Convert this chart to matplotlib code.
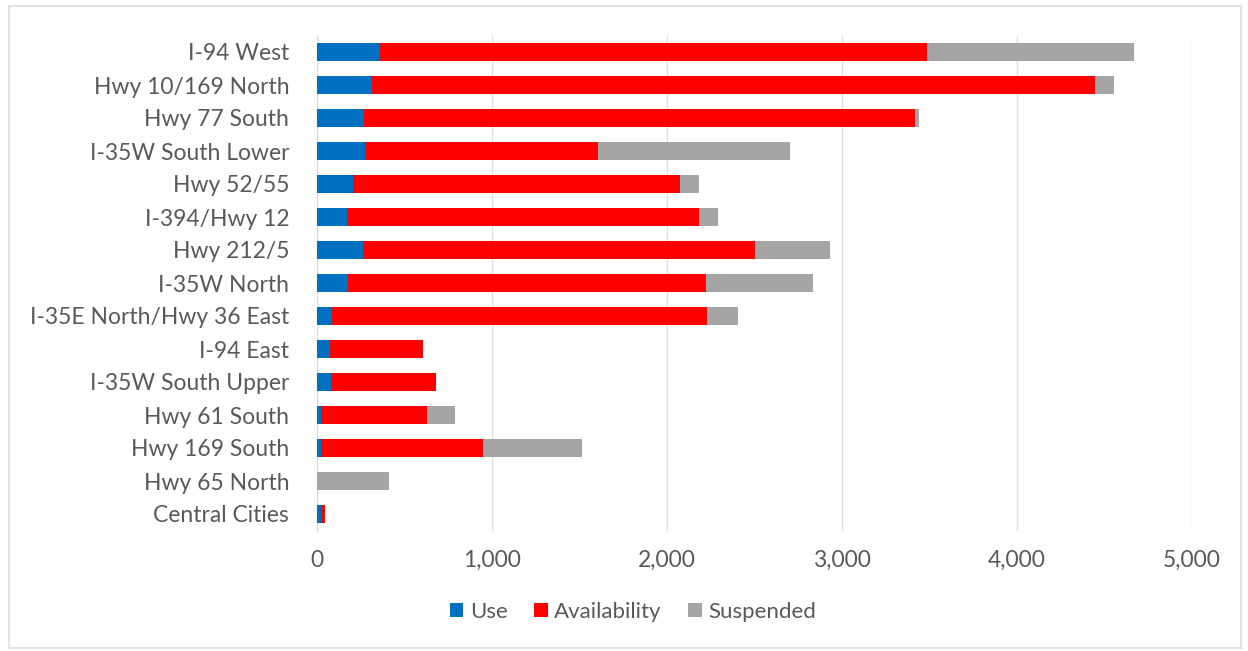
import matplotlib
matplotlib.use("Agg")
import matplotlib.pyplot as plt
from matplotlib.patches import Rectangle
from matplotlib.ticker import FuncFormatter

plt.rcParams['font.family'] = ['Lato', 'DejaVu Sans']

# ---------------------------
# Data (top to bottom as shown)
# ---------------------------
corridors = ["I-94 West", "Hwy 10/169 North", "Hwy 77 South", "I-35W South Lower",
             "Hwy 52/55", "I-394/Hwy 12", "Hwy 212/5", "I-35W North",
             "I-35E North/Hwy 36 East", "I-94 East", "I-35W South Upper",
             "Hwy 61 South", "Hwy 169 South", "Hwy 65 North", "Central Cities"]
use = [360, 314, 269, 272, 204, 172, 262, 178, 86, 76, 82, 20, 25, 0, 25]
availability = [3126, 4132, 3148, 1331, 1873, 2011, 2241, 2043, 2143, 530, 596, 611, 925, 0, 20]
suspended = [1183, 108, 23, 1100, 103, 108, 428, 611, 174, 0, 0, 159, 566, 413, 0]

# ---------------------------
# Plotting
# ---------------------------
fig = plt.figure(figsize=(12.48, 6.51), dpi=100)
ax = fig.add_axes([317 / 1248, 1 - 530.5 / 651, 875 / 1248, 495 / 651])

y = list(range(len(corridors)))
left2 = [u + a for u, a in zip(use, availability)]
h = 0.55
ax.barh(y, use, height=h, color='#0070C0', label='Use', zorder=3)
ax.barh(y, availability, left=use, height=h, color='#FF0000', label='Availability', zorder=3)
ax.barh(y, suspended, left=left2, height=h, color='#A5A5A5', label='Suspended', zorder=3)

ax.set_yticks(y)
ax.set_yticklabels(corridors)
ax.set_ylim(len(corridors) - 0.5, -0.5)
ax.set_xlim(0, 5000)
ax.set_xticks(range(0, 5001, 1000))
ax.xaxis.set_major_formatter(FuncFormatter(lambda v, p: f"{int(v):,}"))

ax.grid(axis='x', color='#E0E0E0', linewidth=1, zorder=0)
for s in ['top', 'right', 'bottom']:
    ax.spines[s].set_visible(False)
ax.spines['left'].set_color('#D9D9D9')
ax.tick_params(axis='both', length=0, colors='#595959', labelsize=16.5)
ax.tick_params(axis='y', pad=20)
ax.tick_params(axis='x', pad=14)

leg = fig.legend(loc='center', bbox_to_anchor=(633 / 1248, 1 - 612 / 651), ncol=3,
                 frameon=False, fontsize=16, handlelength=0.6, handleheight=0.6,
                 handletextpad=0.3, columnspacing=1.2)
for t in leg.get_texts():
    t.set_color('#595959')

# faint chart border
fig.patches.append(Rectangle((9 / 1248, 3 / 651), 1232 / 1248, 642 / 651,
                             transform=fig.transFigure, fill=False,
                             edgecolor='#E3E3E3', linewidth=1.5))

fig.savefig("out.png", dpi=100)
